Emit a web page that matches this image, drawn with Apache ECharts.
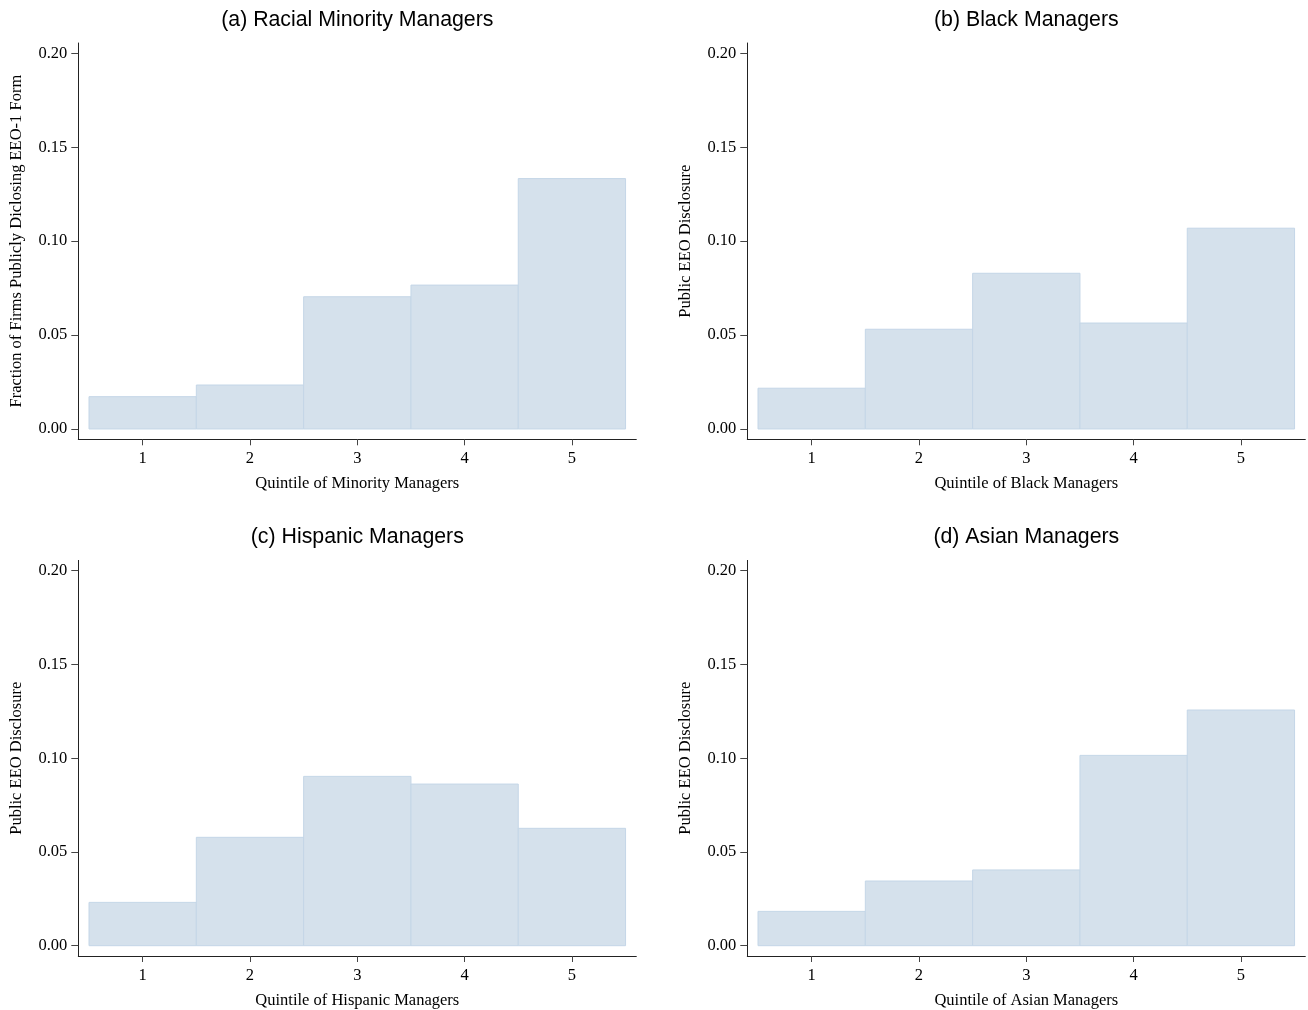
<!DOCTYPE html>
<html>
<head>
<meta charset="utf-8">
<script src="https://cdn.jsdelivr.net/npm/echarts@6/dist/echarts.min.js"></script>
<style>
html,body{margin:0;padding:0;background:#fff;}
#chart{width:1308px;height:1010px;}
</style>
</head>
<body>
<div id="chart"></div>
<script>
// ---- data ----
const quintiles = [1, 2, 3, 4, 5];
const minorityShare = [0.0172, 0.0234, 0.0704, 0.0766, 0.1333];
const blackShare    = [0.0217, 0.0531, 0.0829, 0.0564, 0.1069];
const hispanicShare = [0.0231, 0.0578, 0.0903, 0.0862, 0.0626];
const asianShare    = [0.0183, 0.0345, 0.0404, 0.1015, 0.1257];
const yTicks = [0, 0.05, 0.10, 0.15, 0.20];
const panelTitles = ['(a) Racial Minority Managers', '(b) Black Managers', '(c) Hispanic Managers', '(d) Asian Managers'];
const xNames = ['Quintile of Minority Managers', 'Quintile of Black Managers', 'Quintile of Hispanic Managers', 'Quintile of Asian Managers'];
const yNames = ['Fraction of Firms Publicly Diclosing EEO-1 Form', 'Public EEO Disclosure', 'Public EEO Disclosure', 'Public EEO Disclosure'];
const panelValues = [minorityShare, blackShare, hispanicShare, asianShare];

// ---- layout / style ----
const grids = [
  {left: 78.3, top: 43, width: 558, height: 396.3},
  {left: 747.3, top: 43, width: 558, height: 396.3},
  {left: 78.3, top: 560.4, width: 558, height: 395.8},
  {left: 747.3, top: 560.4, width: 558, height: 395.8}
];
const serif = '"Liberation Serif", "Times New Roman", serif';
const sans = '"Liberation Sans", Arial, sans-serif';
const fillColor = 'rgb(213,225,236)';
const edgeColor = 'rgb(196,214,231)';

const chart = echarts.init(document.getElementById('chart'));

const option = {
  backgroundColor: '#fff',
  animation: false,
  title: grids.map((g, i) => ({
    text: panelTitles[i],
    left: g.left + g.width / 2,
    top: i < 2 ? 10 : 527,
    padding: 0,
    textAlign: 'center',
    textStyle: {fontFamily: sans, fontSize: 21.3, fontWeight: 'normal', color: '#000'}
  })),
  grid: grids.map(g => Object.assign({containLabel: false}, g)),
  xAxis: grids.map((g, i) => ({
    type: 'value', gridIndex: i, min: 0.4, max: 5.6,
    name: xNames[i], nameLocation: 'middle', nameGap: 36,
    nameTextStyle: {fontFamily: serif, fontSize: 16.5, color: '#000'},
    axisLine: {show: true, onZero: false, lineStyle: {color: '#222', width: 1}},
    axisTick: {show: true, length: 6, customValues: quintiles, lineStyle: {color: '#444'}},
    axisLabel: {customValues: quintiles, margin: 11, fontFamily: serif, fontSize: 16.5, color: '#000'},
    splitLine: {show: false}
  })),
  yAxis: grids.map((g, i) => ({
    type: 'value', gridIndex: i, min: -0.0055, max: 0.2055,
    name: yNames[i], nameLocation: 'middle', nameGap: 53,
    nameTextStyle: {fontFamily: serif, fontSize: 16.5, color: '#000'},
    axisLine: {show: true, onZero: false, lineStyle: {color: '#222', width: 1}},
    axisTick: {show: true, length: 7, customValues: yTicks, lineStyle: {color: '#444'}},
    axisLabel: {customValues: yTicks, margin: 11, fontFamily: serif, fontSize: 16.5, color: '#000',
      formatter: v => v.toFixed(2)},
    splitLine: {show: false}
  })),
  series: panelValues.map((vals, i) => ({
    type: 'custom',
    xAxisIndex: i, yAxisIndex: i,
    data: quintiles.map((q, k) => [q, vals[k]]),
    renderItem: function (params, api) {
      const x = api.value(0), y = api.value(1);
      const p0 = api.coord([x - 0.5, y]);
      const p1 = api.coord([x + 0.5, 0]);
      return {
        type: 'rect',
        shape: {x: p0[0], y: p0[1], width: p1[0] - p0[0], height: p1[1] - p0[1]},
        style: {fill: fillColor, stroke: edgeColor, lineWidth: 1}
      };
    }
  }))
};
chart.setOption(option);
</script>
</body>
</html>
